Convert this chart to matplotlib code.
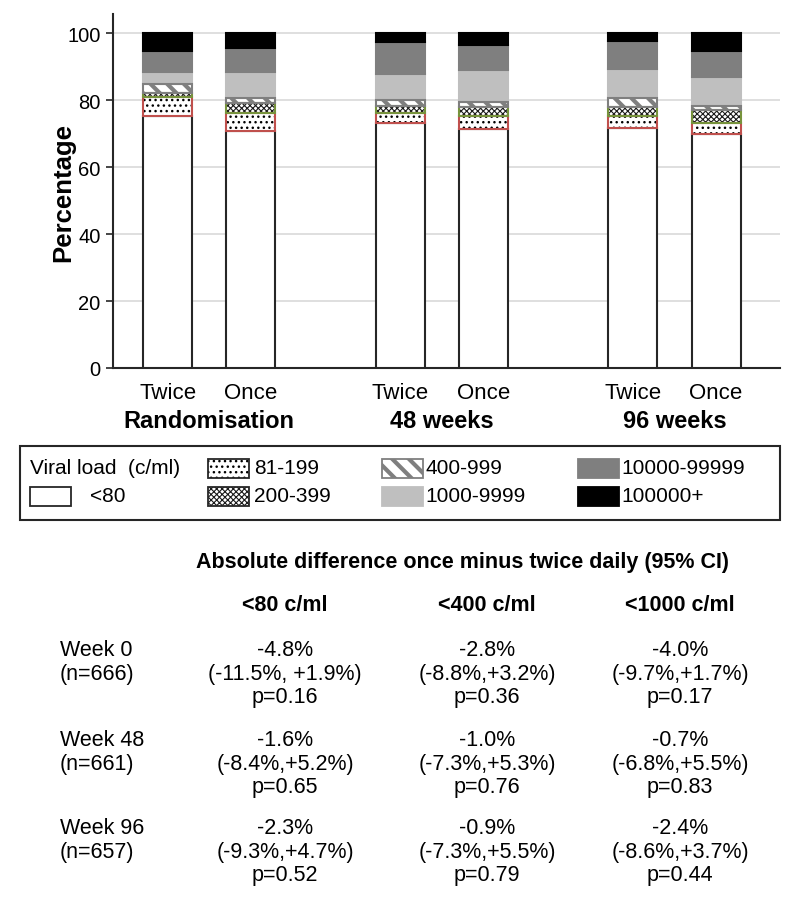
import matplotlib
matplotlib.use("Agg")
import matplotlib.pyplot as plt
from matplotlib.patches import Rectangle
import numpy as np

plt.rcParams['font.family'] = ['Liberation Sans', 'DejaVu Sans']

# ---------------- data ----------------
bar_labels = ["Twice", "Once", "Twice", "Once", "Twice", "Once"]
group_labels = ["Randomisation", "48 weeks", "96 weeks"]
categories = ["<80", "81-199", "200-399", "400-999", "1000-9999", "10000-99999", "100000+"]
lt80 = [75.4, 70.7, 73.3, 71.5, 71.8, 69.8]
v81_199 = [5.5, 5.4, 2.8, 3.9, 3.6, 3.4]
v200_399 = [1.3, 3.1, 2.3, 2.5, 2.7, 4.0]
v400_999 = [2.7, 1.5, 1.7, 1.5, 2.7, 1.2]
v1000_9999 = [3.7, 7.9, 7.7, 9.7, 8.7, 8.5]
v10000_99999 = [6.2, 7.0, 9.5, 7.5, 8.3, 7.9]
v100000 = [5.2, 4.4, 2.7, 3.4, 2.2, 5.2]

table_title = "Absolute difference once minus twice daily (95% CI)"
table_cols = ["<80 c/ml", "<400 c/ml", "<1000 c/ml"]
table_rows = [("Week 0", "(n=666)"), ("Week 48", "(n=661)"), ("Week 96", "(n=657)")]
table_diff = [["-4.8%", "-2.8%", "-4.0%"],
              ["-1.6%", "-1.0%", "-0.7%"],
              ["-2.3%", "-0.9%", "-2.4%"]]
table_ci = [["(-11.5%, +1.9%)", "(-8.8%,+3.2%)", "(-9.7%,+1.7%)"],
            ["(-8.4%,+5.2%)", "(-7.3%,+5.3%)", "(-6.8%,+5.5%)"],
            ["(-9.3%,+4.7%)", "(-7.3%,+5.5%)", "(-8.6%,+3.7%)"]]
table_p = [["p=0.16", "p=0.36", "p=0.17"],
           ["p=0.65", "p=0.76", "p=0.83"],
           ["p=0.52", "p=0.79", "p=0.44"]]

# ---------------- styles ----------------
series = [lt80, v81_199, v200_399, v400_999, v1000_9999, v10000_99999, v100000]
# (face, hatch, hatchcolor, edgecolor, hatch_lw)
styles = [
    ("white", None, None, "#262626", 1.0),
    ("white", "...", "black", "#c0504d", 1.0),
    ("white", "xxxxxx", "#1a1a1a", "#77933c", 0.8),
    ("white", "\\\\", "#7f7f7f", "#7f7f7f", 3.0),
    ("#bfbfbf", None, None, "#bfbfbf", 1.0),
    ("#7f7f7f", None, None, "#7f7f7f", 1.0),
    ("black", None, None, "black", 1.0),
]

FS = 15.5

fig = plt.figure(figsize=(8, 9.2), dpi=100)
ax = fig.add_axes([113/800, 1 - 369/920, 667/800, (369 - 15)/920])

x = np.array([0, 1, 2.8, 3.8, 5.6, 6.6])
width = 0.59
bottom = np.zeros(len(x))
for vals, (face, hatch, hcol, ecol, hlw) in zip(series, styles):
    vals = np.array(vals)
    if hatch is not None:
        with plt.rc_context({'hatch.linewidth': hlw}):
            ax.bar(x, vals, width, bottom=bottom, color=face, hatch=hatch,
                   edgecolor=hcol, linewidth=0, zorder=3)
        ax.bar(x, vals, width, bottom=bottom, facecolor="none",
               edgecolor=ecol, linewidth=1.5, zorder=4)
    else:
        ax.bar(x, vals, width, bottom=bottom, color=face,
               edgecolor=ecol, linewidth=1.5, zorder=3)
    bottom += vals

ax.set_xlim(-0.66, 7.37)
ax.set_ylim(0, 105.8)
ax.set_yticks([0, 20, 40, 60, 80, 100])
ax.yaxis.grid(True, color="#d9d9d9", linewidth=1.2, zorder=0)
ax.set_axisbelow(True)
for s in ["top", "right"]:
    ax.spines[s].set_visible(False)
ax.spines["left"].set_color("#262626")
ax.spines["bottom"].set_color("#262626")
ax.spines["left"].set_linewidth(1.5)
ax.spines["bottom"].set_linewidth(1.5)
ax.tick_params(axis="y", labelsize=14.5, length=5, width=1.2, color="#262626", pad=4)
ax.set_xticks(x)
ax.set_xticklabels(bar_labels, fontsize=16)
ax.tick_params(axis="x", length=0, pad=10)
ax.set_ylabel("Percentage", fontsize=18.5, fontweight="bold")
ax.yaxis.set_label_coords((75 - 113) / 667, 0.5)

for i, g in enumerate(group_labels):
    cx = (x[2*i] + x[2*i+1]) / 2
    ax.text(cx, -53/354*105.8, g, ha="center", va="center", fontsize=17,
            fontweight="bold", transform=ax.transData, clip_on=False)

# ---------------- overlay for legend and table (pixel coordinates) ----------------
ov = fig.add_axes([0, 0, 1, 1], facecolor="none")
ov.set_xlim(0, 800)
ov.set_ylim(920, 0)
ov.axis("off")

ov.add_patch(Rectangle((20, 447), 760, 74, facecolor="none", edgecolor="#262626", linewidth=1.5))
ov.text(30, 469, "Viral load  (c/ml)", fontsize=15, va="center", ha="left")

legend_pos = [  # (patch x, row y) for each category
    (30, 497), (208, 469), (208, 497), (382, 469), (382, 497), (578, 469), (578, 497)
]
pw, ph = 41, 19
for cat, (face, hatch, hcol, ecol, hlw), (px, py) in zip(categories, styles, legend_pos):
    if cat == "<80":
        ecol_l = "#262626"
    elif hatch is not None:
        ecol_l = "#262626" if cat != "400-999" else "#7f7f7f"
    else:
        ecol_l = face
    if hatch is not None:
        with plt.rc_context({'hatch.linewidth': hlw}):
            ov.add_patch(Rectangle((px, py - ph/2), pw, ph, facecolor=face, hatch=hatch,
                                   edgecolor=hcol, linewidth=0))
    ov.add_patch(Rectangle((px, py - ph/2), pw, ph,
                           facecolor=face if hatch is None else "none",
                           edgecolor=ecol_l, linewidth=1.3))
    tx = px + pw + (19 if cat == "<80" else 5)
    if cat in ("400-999", "100000+", "10000-99999", "1000-9999"):
        tx = px + pw + 2
    ov.text(tx, py, cat, fontsize=15, va="center", ha="left")

# table
ov.text(463, 563, table_title, fontsize=15.5, fontweight="bold", ha="center", va="center")
col_x = [285, 487, 680]
for cx, c in zip(col_x, table_cols):
    ov.text(cx, 606, c, fontsize=15.5, fontweight="bold", ha="center", va="center")
row_y = [651, 741, 829]
for r, (ry, (lab, n)) in enumerate(zip(row_y, table_rows)):
    ov.text(60, ry, lab, fontsize=FS, ha="left", va="center")
    ov.text(60, ry + 23.5, n, fontsize=FS, ha="left", va="center")
    for c, cx in enumerate(col_x):
        ov.text(cx, ry, table_diff[r][c], fontsize=FS, ha="center", va="center")
        ov.text(cx, ry + 23.5, table_ci[r][c], fontsize=FS, ha="center", va="center")
        ov.text(cx, ry + 47, table_p[r][c], fontsize=FS, ha="center", va="center")

fig.savefig("out.png", dpi=100)
